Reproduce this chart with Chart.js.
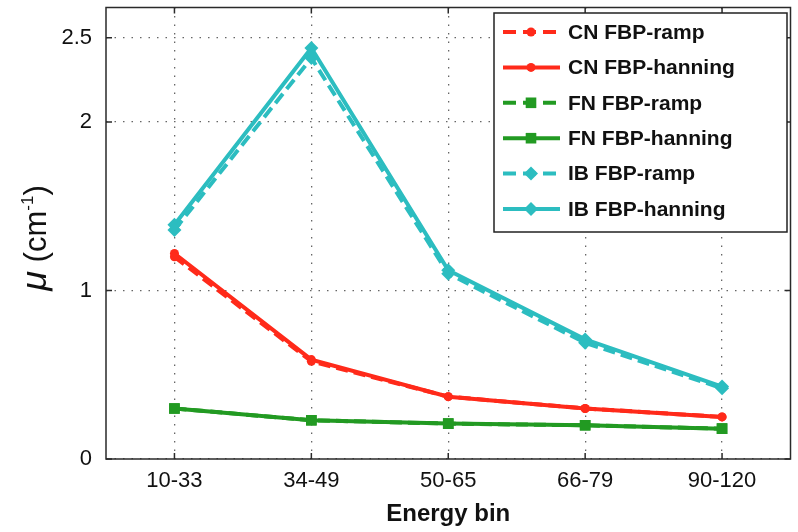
<!DOCTYPE html>
<html>
<head>
<meta charset="utf-8">
<script src="https://cdn.jsdelivr.net/npm/chart.js@4.4.0/dist/chart.umd.min.js"></script>
<style>
    html, body { margin: 0; padding: 0; background: #fff; }
    #wrap { width: 798px; height: 532px; }
</style>
</head>
<body>
<div id="wrap"><canvas id="mu-chart" width="798" height="532"></canvas></div>
<script>
// values
const energyBins = ['10-33', '34-49', '50-65', '66-79', '90-120'];
const cnRamp = [1.20, 0.58, 0.37, 0.30, 0.25];
const cnHanning = [1.22, 0.59, 0.37, 0.30, 0.25];
const fnRamp = [0.30, 0.23, 0.21, 0.20, 0.18];
const fnHanning = [0.30, 0.23, 0.21, 0.20, 0.18];
const ibRamp = [1.36, 2.38, 1.10, 0.69, 0.42];
const ibHanning = [1.39, 2.44, 1.12, 0.71, 0.43];
const yTicks = [0, 1, 2, 2.5];

const RED = '#ff2a1a';
const GREEN = '#229a22';
const CYAN = '#2cbdc0';
const FONT = '"Liberation Sans", Arial, Helvetica, sans-serif';

function series(label, data, color, dashed, pointStyle, radius) {
    return {
        label: label,
        data: data,
        borderColor: color,
        backgroundColor: color,
        borderWidth: 4,
        borderDash: dashed ? [12, 6] : [],
        pointStyle: pointStyle,
        pointRadius: radius,
        pointBorderWidth: 0,
        pointBackgroundColor: color,
        tension: 0,
        fill: false
    };
}

const datasets = [
    series('CN FBP-ramp', cnRamp, RED, true, 'circle', 4.5),
    series('CN FBP-hanning', cnHanning, RED, false, 'circle', 4.5),
    series('FN FBP-ramp', fnRamp, GREEN, true, 'rect', 7.5),
    series('FN FBP-hanning', fnHanning, GREEN, false, 'rect', 7.5),
    series('IB FBP-ramp', ibRamp, CYAN, true, 'rectRot', 7),
    series('IB FBP-hanning', ibHanning, CYAN, false, 'rectRot', 7)
];

function drawMarker(ctx, style, r, x, y) {
    ctx.beginPath();
    if (style === 'rect') {
        const s = r * Math.SQRT1_2;
        ctx.rect(x - s, y - s, 2 * s, 2 * s);
    } else if (style === 'rectRot') {
        ctx.moveTo(x, y - r);
        ctx.lineTo(x + r, y);
        ctx.lineTo(x, y + r);
        ctx.lineTo(x - r, y);
        ctx.closePath();
    } else {
        ctx.arc(x, y, r, 0, Math.PI * 2);
    }
    ctx.fill();
}

// frame, inward ticks, axis titles and the boxed legend
const decorations = {
    id: 'decorations',
    afterDraw(chart) {
        const ctx = chart.ctx;
        const area = chart.chartArea;
        const xs = chart.scales.x;
        const ys = chart.scales.y;
        ctx.save();

        ctx.strokeStyle = '#2a2a2a';
        ctx.lineWidth = 1.5;
        ctx.setLineDash([]);
        ctx.strokeRect(area.left, area.top, area.right - area.left, area.bottom - area.top);

        const tl = 6;
        ctx.beginPath();
        xs.ticks.forEach((t, i) => {
            const px = xs.getPixelForTick(i);
            ctx.moveTo(px, area.bottom); ctx.lineTo(px, area.bottom - tl);
            ctx.moveTo(px, area.top); ctx.lineTo(px, area.top + tl);
        });
        ys.ticks.forEach(t => {
            const py = ys.getPixelForValue(t.value);
            ctx.moveTo(area.left, py); ctx.lineTo(area.left + tl, py);
            ctx.moveTo(area.right, py); ctx.lineTo(area.right - tl, py);
        });
        ctx.stroke();

        // x title
        ctx.fillStyle = '#111';
        ctx.font = 'bold 24px ' + FONT;
        ctx.textAlign = 'center';
        ctx.textBaseline = 'middle';
        ctx.fillText('Energy bin', (area.left + area.right) / 2, 514);

        // y title: mu (cm^-1)
        ctx.save();
        ctx.translate(35, 238);
        ctx.rotate(-Math.PI / 2);
        ctx.textAlign = 'left';
        ctx.textBaseline = 'alphabetic';
        const parts = [
            { t: '\u03bc', f: 'italic 36px ' + FONT, dy: 0 },
            { t: ' (cm', f: '31px ' + FONT, dy: 0 },
            { t: '-1', f: '17px ' + FONT, dy: -13 },
            { t: ')', f: '31px ' + FONT, dy: 0 }
        ];
        let total = 0;
        parts.forEach(p => { ctx.font = p.f; p.w = ctx.measureText(p.t).width; total += p.w; });
        let cx = -total / 2;
        parts.forEach(p => {
            ctx.font = p.f;
            ctx.fillText(p.t, cx, 11 + p.dy);
            cx += p.w;
        });
        ctx.restore();

        // legend
        const box = { left: 494, top: 13, right: 787, bottom: 232 };
        ctx.fillStyle = '#fff';
        ctx.fillRect(box.left, box.top, box.right - box.left, box.bottom - box.top);
        ctx.strokeStyle = '#222';
        ctx.lineWidth = 1.5;
        ctx.strokeRect(box.left, box.top, box.right - box.left, box.bottom - box.top);

        ctx.font = 'bold 21px ' + FONT;
        ctx.textAlign = 'left';
        ctx.textBaseline = 'middle';
        chart.data.datasets.forEach((ds, i) => {
            const y = 32 + i * 35.4;
            ctx.strokeStyle = ds.borderColor;
            ctx.lineWidth = ds.borderWidth;
            ctx.setLineDash(ds.borderDash.length ? [13, 7] : []);
            ctx.beginPath();
            ctx.moveTo(503, y);
            ctx.lineTo(560, y);
            ctx.stroke();
            ctx.setLineDash([]);
            ctx.fillStyle = ds.borderColor;
            drawMarker(ctx, ds.pointStyle, ds.pointRadius, 531, y);
            ctx.fillStyle = '#111';
            ctx.fillText(ds.label, 568, y + 1);
        });

        ctx.restore();
    }
};

new Chart(document.getElementById('mu-chart').getContext('2d'), {
    type: 'line',
    data: {
        labels: energyBins,
        datasets: datasets
    },
    options: {
        responsive: false,
        animation: false,
        devicePixelRatio: 1,
        events: [],
        layout: {
            padding: { top: 0, right: 5, left: 0, bottom: 0 }
        },
        plugins: {
            legend: { display: false },
            tooltip: { enabled: false }
        },
        scales: {
            x: {
                offset: true,
                grid: {
                    display: true,
                    offset: false,
                    color: '#666',
                    lineWidth: 1.3,
                    drawTicks: false
                },
                border: { display: false, dash: [1.5, 7] },
                ticks: {
                    color: '#111',
                    padding: 9,
                    font: { family: FONT, size: 22 },
                    maxRotation: 0
                },
                afterFit(scale) {
                    scale.height = 73;
                    scale.paddingLeft = 0;
                    scale.paddingRight = 0;
                }
            },
            y: {
                min: 0,
                max: 2.68,
                grid: {
                    color: '#666',
                    lineWidth: 1.3,
                    drawTicks: false
                },
                border: { display: false, dash: [1.5, 7] },
                afterBuildTicks(scale) {
                    scale.ticks = yTicks.map(v => ({ value: v }));
                },
                ticks: {
                    color: '#111',
                    padding: 14,
                    font: { family: FONT, size: 22 },
                    callback: v => String(v)
                },
                afterFit(scale) {
                    scale.width = 106;
                    scale.paddingTop = 0;
                    scale.paddingBottom = 0;
                }
            }
        }
    },
    plugins: [decorations]
});
</script>
</body>
</html>
